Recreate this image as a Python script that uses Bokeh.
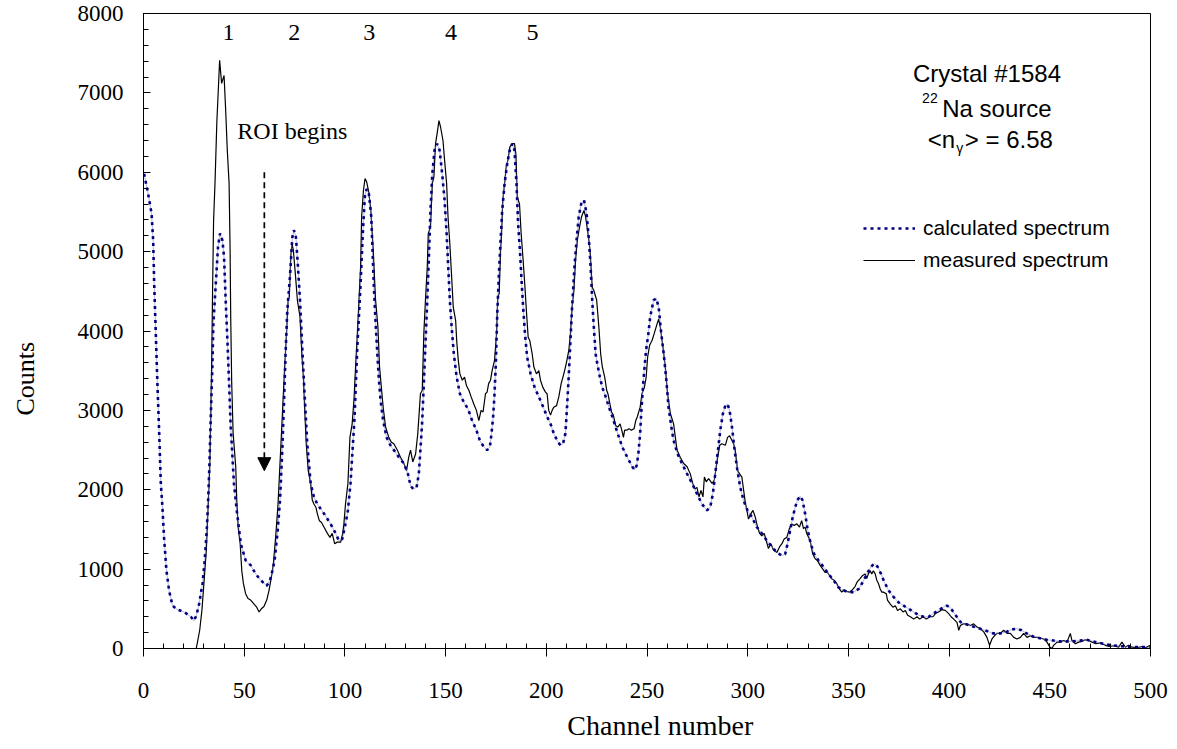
import math
from bokeh.plotting import figure
from bokeh.models import (Range1d, SingleIntervalTicker, Arrow, NormalHead,
                          Legend, LegendItem, Label)
from bokeh.embed import file_html
from bokeh.resources import INLINE
from bokeh.core.properties import value

# ---------------- data ----------------
calc_channel = [
    0.3, 2.3, 4.0, 4.8, 5.3, 6.1, 6.9, 7.8, 8.6, 9.4,
    10.2, 11.4, 12.7, 14.4, 16.8, 20.2, 23.5, 25.1, 26.3, 27.6,
    29.3, 30.4, 31.4, 32.1, 32.7, 33.4, 34.2, 34.7, 35.9, 37.0,
    38.0, 39.2, 40.0, 40.8, 41.6, 42.5, 43.3, 43.8, 44.9, 46.3,
    48.3, 50.7, 53.2, 55.7, 58.2, 61.2, 62.8, 64.0, 65.1, 66.5,
    67.8, 68.9, 69.8, 70.6, 71.4, 72.7, 73.9, 74.7, 75.7, 76.7,
    77.7, 78.8, 79.7, 81.3, 83.0, 84.6, 86.3, 89.6, 92.9, 95.4,
    97.0, 98.7, 100.3, 101.5, 102.8, 103.8, 104.8, 106.1, 107.8, 108.9,
    109.9, 110.8, 111.9, 113.1, 114.4, 115.2, 116.1, 116.9, 117.7, 119.0,
    120.7, 122.6, 124.3, 126.8, 129.3, 131.3, 132.6, 133.9, 135.6, 136.7,
    137.5, 138.4, 139.2, 140.0, 140.9, 141.7, 142.5, 143.4, 144.5, 145.8,
    147.0, 148.3, 149.5, 150.5, 151.3, 152.1, 153.0, 154.1, 155.5, 157.1,
    159.1, 161.1, 163.2, 165.3, 167.0, 169.0, 170.6, 172.0, 172.8, 173.6,
    174.3, 175.0, 175.6, 176.4, 177.3, 178.1, 179.3, 180.6, 181.9, 183.1,
    184.2, 185.2, 186.0, 186.9, 187.7, 188.5, 189.4, 190.5, 192.2, 194.2,
    196.3, 198.5, 200.4, 202.1, 203.7, 205.4, 207.0, 208.3, 209.5, 210.3,
    211.2, 212.0, 212.8, 214.0, 215.0, 216.1, 217.3, 218.7, 220.0, 221.2,
    222.0, 222.8, 223.6, 224.5, 225.3, 226.6, 227.8, 229.5, 231.1, 232.8,
    234.4, 236.1, 237.7, 239.4, 241.0, 242.7, 243.9, 244.9, 245.7, 246.6,
    247.2, 248.3, 249.5, 250.6, 251.6, 253.3, 254.6, 255.8, 256.9, 258.3,
    259.6, 260.7, 262.1, 263.2, 265.2, 267.4, 269.9, 272.4, 274.8, 277.3,
    279.8, 281.4, 282.7, 283.9, 285.0, 286.4, 287.7, 288.9, 290.0, 291.0,
    292.2, 293.3, 294.6, 296.3, 297.9, 299.9, 302.0, 304.5, 307.0, 309.5,
    312.0, 314.5, 317.0, 318.6, 319.8, 321.1, 322.4, 323.6, 324.7, 326.0,
    327.2, 328.5, 329.8, 331.3, 333.0, 335.1, 337.6, 340.1, 342.6, 345.1,
    347.6, 350.1, 352.6, 355.1, 357.2, 359.2, 361.2, 362.9, 364.5, 366.2,
    367.8, 370.0, 372.4, 374.9, 377.4, 379.9, 382.4, 384.9, 387.4, 389.9,
    392.2, 394.7, 397.2, 398.8, 400.5, 402.1, 403.8, 405.8, 407.9, 410.4,
    412.9, 415.4, 418.7, 422.0, 425.3, 428.6, 431.1, 433.6, 436.0, 438.5,
    441.8, 445.1, 448.4, 451.7, 455.0, 458.3, 461.6, 464.9, 468.2, 471.5,
    474.8, 478.1, 481.4, 484.7, 488.0, 491.3, 494.6, 499.6,
]
calc_counts = [
    5980, 5730, 5480, 5140, 4600, 3970, 3340, 2710, 2080, 1780,
    1400, 980, 730, 540, 490, 460, 400, 350, 420, 560,
    820, 1110, 1490, 1870, 2290, 2920, 3550, 4090, 4600, 5060,
    5230, 5140, 4930, 4390, 3920, 3340, 2790, 2580, 2080, 1740,
    1320, 1110, 1050, 940, 860, 790, 860, 980, 1110, 1450,
    1870, 2500, 3130, 3760, 4260, 4680, 5180, 5270, 5180, 4810,
    4390, 3800, 3340, 2580, 2080, 1910, 1820, 1700, 1570, 1450,
    1360, 1380, 1570, 1740, 2080, 2500, 2920, 3760, 4600, 5230,
    5690, 5790, 5730, 5440, 4550, 4130, 3710, 3380, 3130, 2870,
    2660, 2560, 2500, 2410, 2330, 2200, 2050, 2010, 2030, 2200,
    2500, 2870, 3340, 3840, 4390, 4930, 5520, 5980, 6280, 6360,
    6280, 5980, 5650, 5230, 4810, 4390, 4050, 3710, 3420, 3210,
    3100, 3020, 2870, 2750, 2620, 2540, 2500, 2540, 2710, 2920,
    3210, 3630, 4180, 4680, 5140, 5520, 5860, 6110, 6280, 6360,
    6280, 5860, 5350, 5020, 4640, 4300, 3970, 3670, 3460, 3290,
    3170, 3040, 2920, 2830, 2710, 2620, 2560, 2580, 2710, 3040,
    3460, 3880, 4300, 4810, 5140, 5440, 5600, 5650, 5480, 5140,
    4810, 4390, 4050, 3710, 3590, 3420, 3290, 3170, 3040, 2920,
    2790, 2660, 2540, 2450, 2370, 2290, 2250, 2310, 2450, 2710,
    3000, 3400, 3750, 3950, 4180, 4390, 4410, 4300, 4010, 3710,
    3380, 3040, 2790, 2620, 2450, 2330, 2200, 2080, 1950, 1820,
    1740, 1780, 1950, 2200, 2450, 2750, 2960, 3060, 3080, 3000,
    2790, 2540, 2290, 2030, 1870, 1740, 1660, 1530, 1450, 1360,
    1280, 1210, 1170, 1190, 1320, 1490, 1660, 1780, 1870, 1920,
    1870, 1700, 1490, 1320, 1190, 1110, 1030, 940, 860, 770,
    730, 710, 710, 750, 840, 940, 1030, 1070, 1030, 940,
    840, 730, 650, 580, 540, 500, 460, 420, 400, 400,
    440, 480, 520, 540, 520, 460, 400, 330, 310, 290,
    270, 250, 220, 190, 190, 210, 240, 250, 230, 190,
    150, 130, 110, 100, 90, 90, 90, 100, 110, 90,
    70, 50, 40, 30, 25, 20, 17, 17,
]

meas_channel = [
    26.2, 27.9, 29.0, 30.0, 31.2, 32.0, 32.9, 33.4, 33.9, 34.3,
    34.8, 35.5, 36.4, 37.8, 38.8, 40.0, 40.8, 41.6, 42.5, 43.0,
    43.3, 43.8, 44.5, 45.8, 46.3, 47.0, 48.0, 48.8, 49.6, 50.7,
    51.9, 53.2, 54.9, 56.2, 57.4, 58.5, 59.8, 61.2, 62.3, 63.5,
    64.5, 65.6, 66.8, 68.1, 69.3, 70.1, 71.1, 71.8, 72.4, 73.1,
    73.7, 74.4, 75.4, 76.4, 77.7, 78.7, 79.4, 80.0, 80.8, 81.8,
    83.0, 83.8, 84.6, 85.6, 86.3, 87.3, 88.3, 89.6, 91.3, 92.6,
    93.7, 94.9, 96.2, 97.9, 98.9, 99.5, 100.3, 101.5, 102.5, 103.6,
    104.5, 105.3, 106.1, 107.0, 107.8, 108.3, 109.2, 110.0, 110.8, 111.7,
    112.8, 114.0, 115.2, 116.4, 117.2, 118.1, 119.0, 120.2, 121.8, 123.0,
    124.3, 126.0, 127.6, 129.3, 130.6, 131.7, 132.6, 133.7, 135.1, 136.2,
    137.5, 138.4, 139.2, 140.0, 140.9, 141.4, 142.5, 143.4, 144.2, 145.0,
    145.8, 146.7, 147.5, 148.7, 149.5, 150.5, 151.2, 152.1, 153.0, 153.8,
    155.0, 155.5, 156.3, 157.1, 158.3, 159.4, 160.4, 161.6, 162.7, 164.0,
    165.3, 166.5, 167.6, 168.6, 169.8, 170.6, 171.4, 172.3, 173.1, 174.3,
    175.3, 175.9, 176.6, 177.3, 177.8, 178.4, 179.3, 180.1, 180.9, 181.9,
    183.1, 184.2, 184.9, 185.6, 186.7, 187.5, 188.5, 189.4, 190.2, 191.0,
    191.8, 193.0, 193.8, 195.1, 196.3, 197.1, 198.3, 199.6, 200.4, 201.2,
    202.1, 202.9, 203.7, 205.1, 206.2, 207.4, 208.7, 209.9, 211.2, 212.0,
    212.8, 213.7, 214.5, 215.4, 216.5, 217.5, 218.7, 219.5, 220.7, 221.7,
    222.8, 223.6, 225.0, 226.1, 227.0, 227.8, 229.0, 230.0, 230.6, 231.6,
    232.4, 233.3, 234.4, 235.6, 236.6, 237.3, 238.3, 238.9, 239.9, 241.1,
    242.2, 243.6, 244.4, 245.2, 246.6, 247.5, 248.7, 249.6, 250.3, 251.3,
    252.5, 253.6, 255.0, 255.8, 256.6, 257.9, 259.1, 260.2, 261.6, 263.2,
    264.9, 266.5, 268.2, 269.9, 271.5, 272.7, 273.7, 274.8, 275.8, 276.8,
    277.8, 278.5, 279.4, 280.6, 282.3, 283.4, 284.4, 285.1, 286.1, 287.2,
    288.9, 290.0, 291.0, 292.2, 293.0, 293.8, 295.0, 296.0, 297.1, 298.0,
    298.8, 299.6, 300.4, 301.6, 302.6, 303.7, 304.9, 305.9, 307.0, 308.2,
    309.2, 310.3, 311.5, 312.8, 314.5, 315.8, 317.0, 318.1, 319.4, 320.7,
    321.9, 323.0, 324.4, 325.7, 326.8, 327.7, 328.5, 329.3, 331.0, 332.3,
    333.5, 334.6, 335.9, 337.3, 338.4, 339.6, 340.6, 341.7, 342.9, 344.2,
    345.5, 346.7, 347.8, 349.2, 350.5, 351.6, 353.3, 354.4, 355.8, 357.1,
    358.3, 359.1, 359.9, 360.8, 361.6, 362.4, 363.3, 364.1, 364.9, 365.8,
    366.6, 367.4, 368.8, 369.4, 370.8, 372.1, 373.3, 374.4, 375.8, 377.1,
    378.3, 379.4, 380.8, 382.4, 384.1, 385.4, 387.1, 388.7, 390.4, 392.0,
    393.2, 394.8, 396.5, 398.1, 399.8, 401.0, 402.3, 403.9, 404.8, 405.6,
    406.9, 408.6, 410.6, 412.2, 413.9, 415.5, 417.2, 418.8, 420.1, 421.3,
    422.5, 423.8, 425.5, 427.1, 428.8, 430.4, 432.1, 433.7, 435.4, 437.0,
    438.7, 440.3, 442.0, 443.7, 445.3, 447.0, 448.6, 450.0, 451.1, 451.9,
    453.6, 455.2, 456.9, 458.5, 460.2, 461.0, 462.7, 464.3, 466.0, 467.6,
    469.3, 471.0, 472.9, 475.1, 477.6, 479.5, 481.7, 484.2, 485.8, 487.5,
    489.1, 490.8, 493.3, 495.7, 497.4, 499.9,
]
meas_counts = [
    0, 230, 480, 820, 1240, 1740, 2290, 2920, 3670, 4510,
    5390, 5860, 6620, 7410, 7120, 7220, 6780, 6280, 5860, 5020,
    4180, 3340, 2710, 2290, 1870, 1530, 1320, 980, 820, 690,
    630, 610, 560, 520, 460, 500, 530, 610, 730, 900,
    1070, 1400, 1820, 2500, 3130, 3550, 4010, 4390, 4430, 4930,
    5100, 5020, 4720, 4390, 4180, 3670, 3420, 3040, 2580, 2240,
    2080, 1870, 1820, 1780, 1700, 1610, 1590, 1530, 1450, 1400,
    1450, 1320, 1340, 1340, 1450, 1570, 1820, 2080, 2660, 2830,
    3130, 3550, 3920, 4390, 4810, 5440, 5770, 5920, 5880, 5770,
    5550, 5050, 4400, 4050, 3550, 3290, 3040, 2790, 2660, 2600,
    2580, 2500, 2410, 2330, 2240, 2410, 2500, 2350, 2450, 2710,
    3210, 3250, 3970, 4390, 4810, 5230, 5310, 5860, 5940, 6360,
    6490, 6650, 6570, 6400, 6150, 5860, 5440, 5100, 4680, 4300,
    4130, 3880, 3630, 3460, 3380, 3420, 3310, 3250, 3170, 3080,
    3000, 2870, 3000, 2980, 3210, 3230, 3340, 3380, 3500, 3630,
    3970, 4430, 4470, 5020, 5230, 5650, 5860, 6070, 6150, 6320,
    6360, 6360, 6230, 5690, 5600, 5230, 4890, 4550, 4220, 3920,
    3880, 3710, 3550, 3460, 3500, 3380, 3290, 3230, 3210, 3000,
    2940, 3000, 3040, 3060, 3170, 3340, 3460, 3590, 3760, 3970,
    4300, 4510, 4890, 5140, 5310, 5440, 5520, 5440, 5230, 5020,
    4550, 4510, 4390, 4050, 3710, 3550, 3420, 3250, 3210, 3080,
    2980, 2940, 2810, 2790, 2830, 2770, 2660, 2750, 2750, 2770,
    2750, 2770, 2870, 2920, 3040, 3210, 3290, 3420, 3670, 3820,
    3880, 3970, 4090, 4150, 4050, 3800, 3550, 3210, 2960, 2830,
    2500, 2410, 2330, 2290, 2200, 2080, 2010, 2030, 1910, 1990,
    1910, 2160, 2100, 2140, 2080, 2120, 2290, 2410, 2560, 2580,
    2560, 2660, 2680, 2620, 2580, 2500, 2240, 2200, 2160, 1990,
    1840, 1740, 1630, 1700, 1740, 1660, 1530, 1450, 1420, 1450,
    1360, 1260, 1320, 1240, 1210, 1280, 1320, 1380, 1400, 1510,
    1570, 1550, 1570, 1530, 1610, 1510, 1530, 1450, 1360, 1190,
    1130, 1110, 1050, 1000, 960, 960, 920, 880, 860, 820,
    750, 710, 740, 720, 710, 730, 780, 840, 880, 920,
    940, 880, 940, 980, 940, 980, 940, 860, 820, 750,
    710, 710, 690, 610, 560, 520, 540, 480, 500, 460,
    480, 420, 400, 370, 400, 370, 400, 370, 400, 400,
    440, 460, 490, 480, 440, 400, 370, 330, 230, 290,
    310, 310, 290, 310, 270, 250, 210, 140, 40, 120,
    160, 190, 190, 230, 190, 190, 140, 120, 140, 190,
    140, 160, 140, 140, 130, 120, 80, 20, 0, 40,
    80, 80, 100, 80, 190, 100, 60, 80, 90, 110,
    100, 80, 60, 70, 40, 25, 35, 17, 80, 17,
    40, 17, 8, 25, 8, 40,
]

series_names = ["calculated spectrum", "measured spectrum"]

# axis titles and where their centres sit (data units, outside the frame,
# as in the original where they are not centred on the frame)
x_title = "Channel number"
x_title_at = (256.6, -970)
y_title = "Counts"
y_title_at = (-58.4, 3400)

peak_labels = ["1", "2", "3", "4", "5"]
peak_label_channel = [42.2, 74.9, 112.1, 152.7, 193.2]
peak_label_counts = [7765, 7765, 7765, 7765, 7765]

roi_text = ["ROI begins"]
roi_text_channel = [73.9]
roi_text_counts = [6514]
roi_arrow_channel = 60
roi_arrow_from = 6000
roi_arrow_to = 2240

info_title = ["Crystal #1584"]
info_title_channel = [418.8]
info_title_counts = [7249]
info_sup = ["22"]
info_sup_channel = [386.6]
info_sup_counts = [6930]
info_source = ["Na source"]
info_source_channel = [396.6]
info_source_counts = [6808]
info_n_parts = ["<n", "\u03b3", "> = 6.58"]
info_n_channel = [389.4, 403.6, 407.8]
info_n_counts = [6407, 6300, 6407]

x_range = (0, 500)
y_range = (0, 8000)

SERIF = "Liberation Serif"
SANS = "Liberation Sans"

# ---------------- figure ----------------
p = figure(width=1168, height=745,
           x_range=Range1d(*x_range), y_range=Range1d(*y_range),
           output_backend="svg", toolbar_location=None,
           min_border_left=143, min_border_right=18,
           min_border_top=13, min_border_bottom=97,
           background_fill_color="white", border_fill_color="white")

p.grid.visible = False
p.outline_line_color = "black"
p.outline_line_width = 1
p.outline_line_alpha = 1

p.xaxis.ticker = SingleIntervalTicker(interval=50, num_minor_ticks=5)
p.yaxis.ticker = SingleIntervalTicker(interval=1000, num_minor_ticks=5)

for ax in (p.xaxis[0], p.yaxis[0]):
    ax.axis_line_color = "black"
    ax.axis_line_width = 1
    ax.major_tick_line_color = "black"
    ax.minor_tick_line_color = "black"
    ax.major_label_text_font = SERIF
    ax.major_label_text_font_size = "23px"
    ax.major_label_text_color = "black"

p.xaxis.major_tick_in = 5
p.xaxis.major_tick_out = 8
p.xaxis.minor_tick_in = 5
p.xaxis.minor_tick_out = 0
p.xaxis.major_label_standoff = 26

p.yaxis.major_tick_in = 7
p.yaxis.major_tick_out = 0
p.yaxis.minor_tick_in = 5
p.yaxis.minor_tick_out = 0
p.yaxis.major_label_standoff = 20

# axis titles as labels living in the side panels (not clipped by the frame)
p.add_layout(Label(x=y_title_at[0], y=y_title_at[1], text=y_title,
                   angle=math.pi / 2, text_font=SERIF,
                   text_font_size="26px", text_color="black",
                   text_align="center", text_baseline="middle",
                   level="overlay"), "left")
p.add_layout(Label(x=x_title_at[0], y=x_title_at[1], text=x_title,
                   text_font=SERIF, text_font_size="28px",
                   text_color="black",
                   text_align="center", text_baseline="middle",
                   level="overlay"), "below")

# ---------------- series ----------------
meas_r = p.line(meas_channel, meas_counts, line_color="black", line_width=1.2)
p.line(calc_channel, calc_counts, line_color="#7a7ac4", line_width=0.8,
       line_alpha=0.7)
calc_r = p.line(calc_channel, calc_counts, line_color="#000080",
                line_width=2.6, line_dash="3 4")

legend = Legend(items=[LegendItem(label=series_names[0], renderers=[calc_r]),
                       LegendItem(label=series_names[1], renderers=[meas_r])],
                location=(720, 376), orientation="vertical",
                label_text_font=SANS, label_text_font_size="21px",
                label_text_color="black",
                glyph_width=52, glyph_height=20, label_height=20,
                label_standoff=8, spacing=8, padding=0, margin=0,
                border_line_alpha=0, background_fill_alpha=0)
p.add_layout(legend)

# ---------------- annotations ----------------
p.text(peak_label_channel, peak_label_counts, text=peak_labels,
       text_font=value(SERIF), text_font_size="24px", text_color="black",
       text_align="center", text_baseline="middle")

p.text(roi_text_channel, roi_text_counts, text=roi_text,
       text_font=value(SERIF), text_font_size="24px", text_color="black",
       text_align="center", text_baseline="middle")

p.add_layout(Arrow(x_start=roi_arrow_channel, y_start=roi_arrow_from,
                   x_end=roi_arrow_channel, y_end=roi_arrow_to,
                   line_color="black", line_width=1.7, line_dash="6 4",
                   end=NormalHead(size=13, fill_color="black",
                                  line_color="black", line_width=1)))

p.text(info_title_channel, info_title_counts, text=info_title,
       text_font=value(SANS), text_font_size="24px", text_color="black",
       text_align="center", text_baseline="middle")
p.text(info_sup_channel, info_sup_counts, text=info_sup,
       text_font=value(SANS), text_font_size="14px", text_color="black",
       text_align="left", text_baseline="middle")
p.text(info_source_channel, info_source_counts, text=info_source,
       text_font=value(SANS), text_font_size="24px", text_color="black",
       text_align="left", text_baseline="middle")
p.text(info_n_channel, info_n_counts, text=info_n_parts,
       text_font=value(SANS), text_font_size=["24px", "14px", "24px"],
       text_color="black", text_align="left", text_baseline="middle")

open("out.html", "w").write(file_html(p, INLINE))
